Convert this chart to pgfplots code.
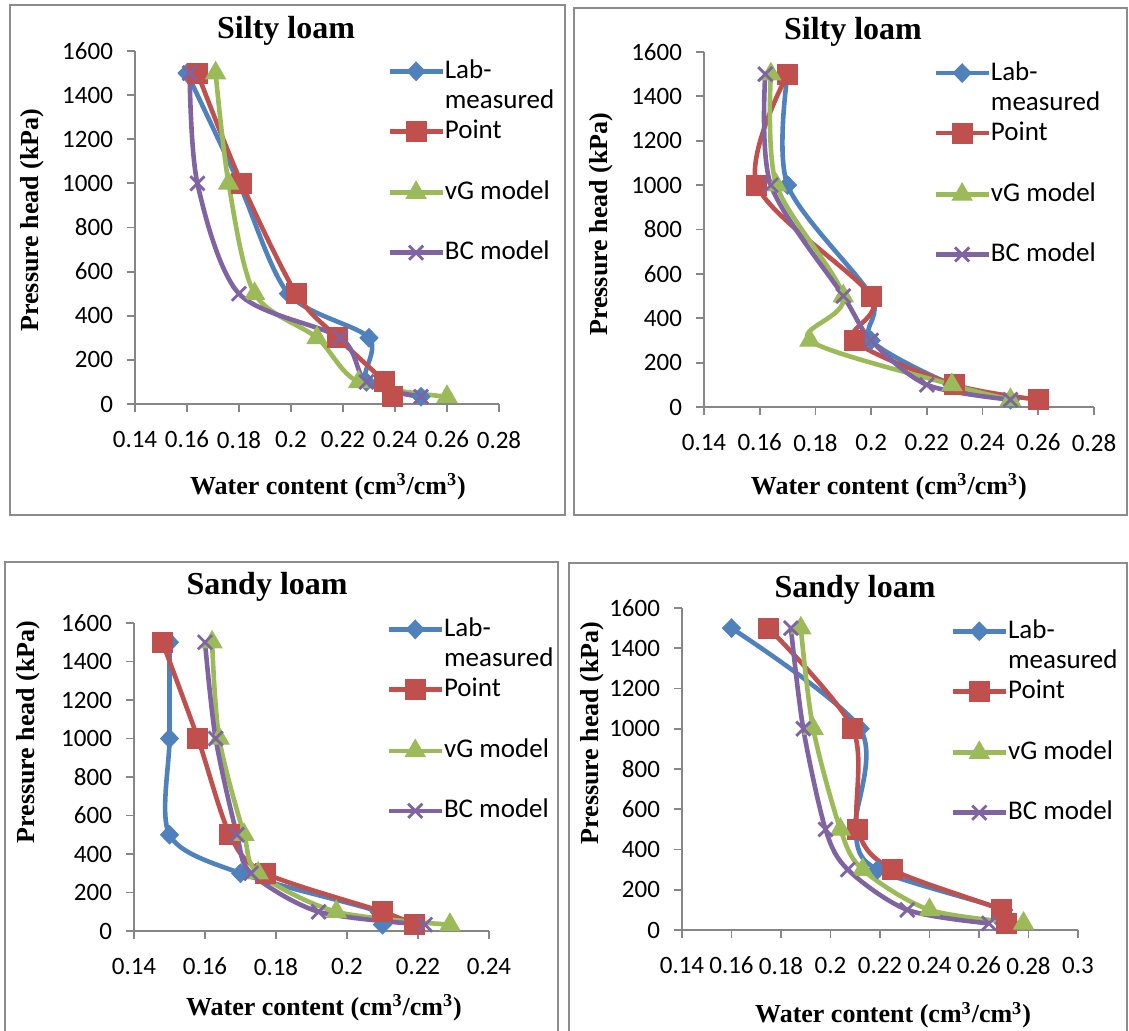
\documentclass[border=0pt]{standalone}
\usepackage{fontspec}
\setmainfont{Liberation Serif}
\newfontfamily\calib{Carlito}
\usepackage{pgfplots}
\pgfplotsset{compat=1.18}
\definecolor{cBlue}{HTML}{4F81BD}
\definecolor{cRed}{HTML}{C0504D}
\definecolor{cGreen}{HTML}{9BBB59}
\definecolor{cPurple}{HTML}{8064A2}
\definecolor{axgray}{HTML}{868686}
\definecolor{framegray}{HTML}{8C8C8C}
\pgfplotsset{
  swcpanel/.style={
    scale only axis,
    anchor=south west,
    axis lines=left,
    axis line style={-, draw=axgray, line width=0.9pt},
    tick style={draw=axgray, line width=0.9pt},
    major tick length=4pt,
    tick align=outside,
    ymin=0, ymax=1600,
    ytick={0,200,400,600,800,1000,1200,1400,1600},
    xmin=0.14,
    clip=false,
    /pgf/number format/assume math mode=true,
    /pgf/number format/1000 sep={},
    /pgf/number format/fixed,
    /pgf/number format/precision=2,
    tick label style={font=\calib\fontsize{12.5}{14}\selectfont},
    xticklabel style={yshift=-6pt},
    yticklabel style={xshift=-3.5pt},
    title style={font=\bfseries\fontsize{16}{18}\selectfont, anchor=center},
    label style={font=\bfseries\fontsize{13}{15}\selectfont},
    xlabel={Water content (cm\textsuperscript{3}/cm\textsuperscript{3})},
    ylabel={Pressure head (kPa)},
    legend cell align=left,
    legend style={draw=none, fill=none, inner sep=0pt, row sep=5pt,
      font=\calib\fontsize{13.5}{15}\selectfont,
      nodes={inner sep=0pt, text height=8.5pt, text depth=1.5pt},
      anchor=north west,
      /tikz/every even column/.append style={column sep=1.5pt}},
    legend image code/.code={
      \draw[mark repeat=2,mark phase=2,#1] plot coordinates {(0pt,0pt) (13.25pt,0pt) (26.5pt,0pt)};},
  },
  labS/.style={color=cBlue, line width=2.3pt, smooth, mark=diamond*, mark size=4.6pt,
    mark options={solid, xscale=1.3, fill=cBlue, draw=cBlue, line width=0.5pt}},
  ptS/.style={color=cRed, line width=2.3pt, smooth, mark=square*, mark size=5pt,
    mark options={solid, fill=cRed, draw=cRed, line width=0.5pt}},
  vgS/.style={color=cGreen, line width=2.3pt, smooth, mark=triangle*, mark size=5.7pt,
    mark options={solid, fill=cGreen, draw=cGreen, line width=0.5pt}},
  bcS/.style={color=cPurple, line width=2.3pt, smooth, mark=x, mark size=5pt,
    mark options={solid, draw=cPurple, line width=1.4pt}},
}
\begin{document}
\begin{tikzpicture}
\path[use as bounding box] (0,0) rectangle (564.5pt,515pt);
% panel frames
\draw[framegray, line width=1.2pt] (5pt,257.5pt) rectangle (282.5pt,512.5pt);
\draw[framegray, line width=1.2pt] (287pt,257.5pt) rectangle (563.5pt,511pt);
\draw[framegray, line width=1.2pt] (2.5pt,-3pt) -- (2.5pt,234pt) -- (279pt,234pt) -- (279pt,-3pt);
\draw[framegray, line width=1.2pt] (284.5pt,-3pt) -- (284.5pt,233.5pt) -- (563.5pt,233.5pt) -- (563.5pt,-3pt);

% ---------- Panel 1: Silty loam (left) ----------
\begin{axis}[swcpanel, at={(67.5pt,313pt)}, width=182pt, height=176.5pt,
  xmax=0.28, xtick={0.14,0.16,0.18,0.2,0.22,0.24,0.26,0.28},
  title={Silty loam}, title style={at={(axis description cs:0.415,1.022)}},
  xlabel style={at={(axis description cs:0.53,-0.235)}, anchor=center},
  ylabel style={at={(axis description cs:-0.283,0.521)}, anchor=center},
  legend style={at={(axis description cs:0.692,0.972)}}]
\addplot[labS] coordinates {(0.160,1500) (0.180,1000) (0.199,500) (0.230,300) (0.229,100) (0.250,33)};
\addlegendentry{Lab-}
\addlegendimage{empty legend}\addlegendentry{measured}
\addplot[ptS] coordinates {(0.164,1500) (0.181,1000) (0.202,500) (0.218,300) (0.236,100) (0.239,33)};
\addlegendentry{Point}
\addlegendimage{empty legend}\addlegendentry{}
\addplot[vgS] coordinates {(0.171,1500) (0.176,1000) (0.186,500) (0.210,300) (0.226,100) (0.260,33)};
\addlegendentry{vG model}
\addlegendimage{empty legend}\addlegendentry{}
\addplot[bcS] coordinates {(0.161,1500) (0.164,1000) (0.180,500) (0.219,300) (0.229,100) (0.250,33)};
\addlegendentry{BC model}
\end{axis}

% ---------- Panel 2: Silty loam (right) ----------
\begin{axis}[swcpanel, at={(352pt,311.5pt)}, width=195pt, height=177.5pt,
  xmax=0.28, xtick={0.14,0.16,0.18,0.2,0.22,0.24,0.26,0.28},
  title={Silty loam}, title style={at={(axis description cs:0.382,1.022)}},
  xlabel style={at={(axis description cs:0.474,-0.225)}, anchor=center},
  ylabel style={at={(axis description cs:-0.264,0.515)}, anchor=center},
  legend style={at={(axis description cs:0.587,0.970)}}]
\addplot[labS] coordinates {(0.170,1500) (0.170,1000) (0.200,500) (0.200,300) (0.229,100) (0.250,33)};
\addlegendentry{Lab-}
\addlegendimage{empty legend}\addlegendentry{measured}
\addplot[ptS] coordinates {(0.170,1500) (0.159,1000) (0.200,500) (0.194,300) (0.230,100) (0.260,33)};
\addlegendentry{Point}
\addlegendimage{empty legend}\addlegendentry{}
\addplot[vgS] coordinates {(0.164,1500) (0.166,1000) (0.190,500) (0.178,300) (0.229,100) (0.250,33)};
\addlegendentry{vG model}
\addlegendimage{empty legend}\addlegendentry{}
\addplot[bcS] coordinates {(0.162,1500) (0.164,1000) (0.190,500) (0.200,300) (0.220,100) (0.250,33)};
\addlegendentry{BC model}
\end{axis}

% ---------- Panel 3: Sandy loam (left) ----------
\begin{axis}[swcpanel, at={(67pt,49.5pt)}, width=177.5pt, height=154pt,
  xmax=0.24, xtick={0.14,0.16,0.18,0.2,0.22,0.24},
  title={Sandy loam}, title style={at={(axis description cs:0.375,1.078)}},
  xlabel style={at={(axis description cs:0.535,-0.25)}, anchor=center},
  ylabel style={at={(axis description cs:-0.299,0.646)}, anchor=center},
  legend style={at={(axis description cs:0.71,1.013)}}]
\addplot[labS] coordinates {(0.150,1500) (0.150,1000) (0.150,500) (0.170,300) (0.209,100) (0.210,33)};
\addlegendentry{Lab-}
\addlegendimage{empty legend}\addlegendentry{measured}
\addplot[ptS] coordinates {(0.148,1500) (0.158,1000) (0.167,500) (0.177,300) (0.210,100) (0.219,33)};
\addlegendentry{Point}
\addlegendimage{empty legend}\addlegendentry{}
\addplot[vgS] coordinates {(0.162,1500) (0.164,1000) (0.171,500) (0.175,300) (0.197,100) (0.229,33)};
\addlegendentry{vG model}
\addlegendimage{empty legend}\addlegendentry{}
\addplot[bcS] coordinates {(0.160,1500) (0.163,1000) (0.169,500) (0.173,300) (0.192,100) (0.222,33)};
\addlegendentry{BC model}
\end{axis}

% ---------- Panel 4: Sandy loam (right) ----------
\begin{axis}[swcpanel, at={(341pt,50pt)}, width=198pt, height=161pt,
  xmax=0.3, xtick={0.14,0.16,0.18,0.2,0.22,0.24,0.26,0.28,0.3},
  title={Sandy loam}, title style={at={(axis description cs:0.437,1.019)}},
  xlabel style={at={(axis description cs:0.533,-0.265)}, anchor=center},
  ylabel style={at={(axis description cs:-0.227,0.612)}, anchor=center},
  legend style={at={(axis description cs:0.677,0.96)}}]
\addplot[labS] coordinates {(0.160,1500) (0.212,1000) (0.210,500) (0.219,300) (0.270,100) (0.270,33)};
\addlegendentry{Lab-}
\addlegendimage{empty legend}\addlegendentry{measured}
\addplot[ptS] coordinates {(0.175,1500) (0.209,1000) (0.211,500) (0.225,300) (0.269,100) (0.271,33)};
\addlegendentry{Point}
\addlegendimage{empty legend}\addlegendentry{}
\addplot[vgS] coordinates {(0.188,1500) (0.193,1000) (0.204,500) (0.213,300) (0.240,100) (0.278,33)};
\addlegendentry{vG model}
\addlegendimage{empty legend}\addlegendentry{}
\addplot[bcS] coordinates {(0.184,1500) (0.189,1000) (0.198,500) (0.207,300) (0.231,100) (0.264,33)};
\addlegendentry{BC model}
\end{axis}
\end{tikzpicture}
\end{document}
